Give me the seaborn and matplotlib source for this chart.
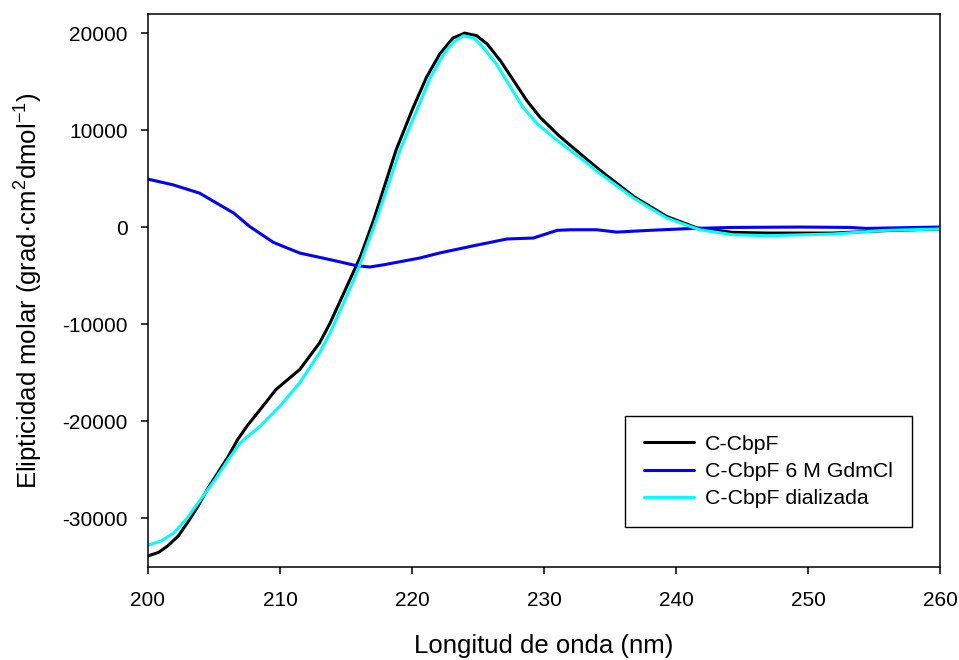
import matplotlib
matplotlib.use("Agg")
import matplotlib.pyplot as plt
import pandas as pd
import seaborn as sns

# Wavelength (nm) vs molar ellipticity
wl_native = [200, 200.8, 201.5, 202.3, 203.0, 203.8, 204.5, 205.3, 206.1, 206.8,
             207.5, 208.6, 209.7, 211.5, 213.0, 213.8, 215.3, 216.1, 217.1, 218.8,
             220.1, 221.1, 222.1, 223.1, 224.0, 224.9, 225.7, 226.7, 227.7,
             228.7, 229.7, 231.1, 233.0, 234.2, 236.8, 239.3, 241.6, 244.3, 246.9,
             251.9, 255.7, 260]
cd_native = [-33850, -33500, -32820, -31800, -30420, -28710, -26990, -25270, -23560, -21850,
             -20480, -18600, -16700, -14640, -11900, -9840, -5380, -2980, 790, 8000,
             12390, 15480, 17870, 19520, 20030, 19760, 18900, 17180, 15130,
             13070, 11360, 9500, 7300, 5940, 3190, 1130, -60, -510, -580,
             -580, -340, -160]

wl_gdmcl = [200, 201.9, 203.9, 206.5, 207.7, 209.5, 211.5, 213.8, 215.8, 216.8,
            217.9, 218.6, 220.6, 222.1, 224.7, 227.2, 229.2, 231.0, 232.0, 234.0,
            235.5, 238.0, 241.3, 244.3, 249.4, 253.2, 254.4, 260]
cd_gdmcl = [4980, 4390, 3540, 1480, 100, -1540, -2640, -3320, -3940, -4080,
            -3840, -3660, -3150, -2630, -1880, -1190, -1090, -300, -240, -240,
            -480, -300, -100, 0, 40, 0, -100, 40]

wl_dial = [200, 201.0, 202.0, 203.0, 204.0, 205.1, 206.1, 207.0, 208.5, 210.0,
           211.5, 213.0, 213.8, 215.6, 216.1, 217.3, 219.1, 220.4, 221.4,
           222.4, 223.1, 223.9, 224.7, 225.4, 226.4, 227.4, 228.4, 229.5, 230.7,
           233.0, 234.2, 236.8, 239.3, 241.8, 244.3, 246.9, 251.9, 255.7, 260]
cd_dial = [-32750, -32310, -31450, -29900, -28020, -25960, -23900, -22190, -20480, -18420,
           -16010, -12920, -10870, -5380, -3660, 790, 8000, 12210, 15480,
           17870, 19080, 19760, 19520, 18560, 16840, 14610, 12390, 10670, 9300,
           6900, 5600, 3020, 970, -240, -750, -850, -680, -310, -160]

labels = ["C-CbpF", "C-CbpF 6 M GdmCl", "C-CbpF dializada"]
colors = ["#000000", "#0000ff", "#00ffff"]

df = pd.concat([
    pd.DataFrame({"wl": wl_native, "cd": cd_native, "muestra": labels[0]}),
    pd.DataFrame({"wl": wl_gdmcl, "cd": cd_gdmcl, "muestra": labels[1]}),
    pd.DataFrame({"wl": wl_dial, "cd": cd_dial, "muestra": labels[2]}),
])

sns.set_style("ticks")
plt.rcParams['font.family'] = ['Liberation Sans', 'DejaVu Sans']
plt.rcParams['mathtext.default'] = 'regular'
plt.rcParams['axes.unicode_minus'] = False
plt.rcParams['text.color'] = 'black'
plt.rcParams['axes.labelcolor'] = 'black'

fig = plt.figure(figsize=(9.59, 6.6), dpi=100)
ax = fig.add_axes([0.1543, 0.1409, 0.8259, 0.8379])

sns.lineplot(data=df, x="wl", y="cd", hue="muestra", hue_order=labels,
             palette=colors, estimator=None, sort=False, linewidth=2.2, ax=ax)

ax.set_xlim(200, 260)
ax.set_ylim(-35000, 22000)
ax.set_xticks([200, 210, 220, 230, 240, 250, 260])
ax.set_yticks([-30000, -20000, -10000, 0, 10000, 20000])
ax.tick_params(direction="out", length=5, width=1.1, labelsize=15, colors="black")
ax.tick_params(axis="x", pad=12)
ax.tick_params(axis="y", pad=9.5)
for s in ax.spines.values():
    s.set_visible(True)
    s.set_linewidth(1.1)
    s.set_color("black")

ax.set_xlabel("Longitud de onda (nm)", fontsize=18.5, labelpad=17.5)
ax.set_ylabel("Elipticidad molar (grad·cm$^2$dmol$^{-1}$)", fontsize=18.5, labelpad=12.5)

leg = ax.legend(loc="lower right", bbox_to_anchor=(0.965, 0.072), borderaxespad=0,
                fontsize=15.3, handlelength=2.35, handletextpad=0.55, borderpad=0.9,
                labelspacing=0.38, fancybox=False, framealpha=1, edgecolor="black", title=None)
leg.get_frame().set_linewidth(1.0)
for h in leg.get_lines():
    h.set_linewidth(2.2)
for t in leg.get_texts():
    t.set_color("black")

fig.savefig("out.png", dpi=100)
